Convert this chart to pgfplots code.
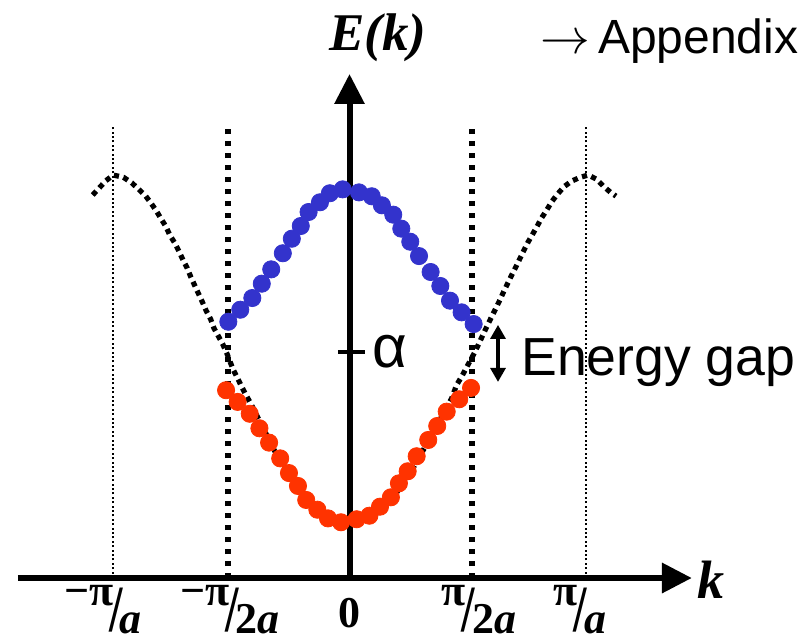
\documentclass[border=0pt]{standalone}
\usepackage{graphicx}
\usepackage{pgfplots}
\pgfplotsset{compat=1.18}
\usepackage{fontspec}
\setmainfont{Liberation Serif}
\newfontfamily\arial{Liberation Sans}
\usetikzlibrary{arrows.meta}
\definecolor{bandblue}{RGB}{51,51,204}
\definecolor{bandred}{RGB}{255,51,0}
% fraction-style tick label: raised numerator, tall slash, denominator
\newcommand{\frc}[2]{\raisebox{14pt}{#1}\kern-2pt\raisebox{1pt}{\scalebox{1.1}[1.5]{/}}\kern-1.5pt#2}

\begin{document}
\begin{tikzpicture}
\begin{axis}[
  x=118.25pt, y=88.5pt,
  xmin=-1.478, xmax=1.922,
  ymin=-1.627, ymax=1.989,
  enlargelimits=false,
  axis lines=none,
  clip=false,
]
% free-electron-like dotted band E(k), k in units of pi/a, E relative to alpha
\addplot[line width=2.6pt, dash pattern=on 2.6pt off 2.3pt] coordinates {
 (-1.086,0.887) (-1.055,0.932) (-1.030,0.968) (-0.999,1.000) (-0.956,0.987)
 (-0.921,0.956) (-0.891,0.919) (-0.863,0.883) (-0.841,0.844) (-0.817,0.798)
 (-0.797,0.753) (-0.776,0.708) (-0.760,0.661) (-0.738,0.614) (-0.722,0.571)
 (-0.704,0.520) (-0.686,0.473) (-0.671,0.424) (-0.655,0.377) (-0.638,0.328)
 (-0.621,0.279) (-0.606,0.233) (-0.587,0.185) (-0.573,0.134) (-0.553,0.086)
 (-0.536,0.044) (-0.519,-0.007) (-0.505,-0.055) (-0.491,-0.102) (-0.473,-0.149)
 (-0.456,-0.196) (-0.438,-0.243) (-0.418,-0.290) (-0.386,-0.375) (-0.315,-0.563)
 (-0.25,-0.70) (-0.18,-0.83) (-0.10,-0.93) (0,-0.97) (0.10,-0.93) (0.18,-0.83)
 (0.25,-0.70) (0.312,-0.554) (0.432,-0.262) (0.453,-0.186) (0.474,-0.140)
 (0.493,-0.092) (0.512,-0.045) (0.531,0.002) (0.549,0.053) (0.566,0.102)
 (0.584,0.153) (0.601,0.199) (0.619,0.247) (0.636,0.294) (0.652,0.341)
 (0.669,0.388) (0.686,0.435) (0.704,0.482) (0.721,0.529) (0.738,0.576)
 (0.756,0.623) (0.775,0.667) (0.794,0.712) (0.813,0.759) (0.834,0.802)
 (0.855,0.849) (0.879,0.891) (0.907,0.934) (0.940,0.966) (0.975,0.987)
 (1.010,1.000) (1.045,0.976) (1.076,0.934) (1.104,0.902) (1.127,0.881)
};
% zone boundaries
\addplot[line width=1pt, dash pattern=on 1pt off 1.2pt] coordinates {(-1.0,-1.277) (-1.0,1.282)};
\addplot[line width=1pt, dash pattern=on 1pt off 1.2pt] coordinates {(1.0,-1.277) (1.0,1.282)};
\addplot[line width=3pt, dash pattern=on 2.7pt off 3.3pt] coordinates {(-0.514,-1.277) (-0.514,1.282)};
\addplot[line width=3pt, dash pattern=on 2.7pt off 3.3pt] coordinates {(0.517,-1.277) (0.517,1.282)};
% lower band
\addplot[only marks, mark=*, mark size=4.3pt, color=bandred] coordinates {
 (-0.522,-0.216) (-0.473,-0.282) (-0.422,-0.349) (-0.381,-0.431) (-0.340,-0.512)
 (-0.293,-0.601) (-0.256,-0.684) (-0.218,-0.757) (-0.183,-0.836) (-0.136,-0.891)
 (-0.091,-0.940) (-0.036,-0.962) (0.030,-0.945) (0.084,-0.925) (0.129,-0.874)
 (0.175,-0.821) (0.209,-0.742) (0.246,-0.674) (0.284,-0.589) (0.333,-0.497)
 (0.371,-0.418) (0.411,-0.337) (0.464,-0.267) (0.514,-0.203)
};
% upper band
\addplot[only marks, mark=*, mark size=4.3pt, color=bandblue] coordinates {
 (-0.5125,0.171) (-0.462,0.239) (-0.411,0.305) (-0.371,0.386) (-0.331,0.467)
 (-0.282,0.558) (-0.244,0.640) (-0.206,0.712) (-0.173,0.791) (-0.125,0.846)
 (-0.083,0.897) (-0.029,0.919) (0.040,0.902) (0.094,0.880) (0.137,0.829)
 (0.185,0.776) (0.219,0.697) (0.257,0.623) (0.294,0.542) (0.343,0.452)
 (0.384,0.373) (0.425,0.290) (0.474,0.224) (0.525,0.158)
};
% axes
\addplot[line width=3.2pt, -{Triangle[length=15pt,width=14.5pt]}] coordinates {(-1.402,-1.277) (1.448,-1.277)};
\addplot[line width=3pt, -{Triangle[length=15pt,width=14.5pt]}] coordinates {(0,-1.277) (0,1.571)};
\addplot[line width=2pt] coordinates {(-0.049,0) (0.066,0)};
% energy gap arrow
\addplot[line width=1.6pt, {Triangle[length=7pt,width=7.5pt]}-{Triangle[length=7pt,width=7.5pt]}] coordinates {(0.628,0.153) (0.628,-0.169)};

\node[anchor=west, font=\arial\fontsize{30}{34}\selectfont, inner sep=0pt] at (axis cs:0.095,0) {α};
\node[anchor=base west, font=\arial\fontsize{26.8}{30}\selectfont, inner sep=0pt] at (axis cs:0.725,-0.130) {Energy gap};
\node[anchor=base, font=\fontsize{26.5}{30}\selectfont\bfseries\itshape, inner sep=0pt] at (axis cs:0.12,1.706) {E(k)};
\node[anchor=base west, font=\arial\fontsize{24}{28}\selectfont, inner sep=0pt] at (axis cs:0.805,1.689) {$\rightarrow$\,Appendix};
\node[anchor=base west, font=\fontsize{27}{30}\selectfont\bfseries\itshape, inner sep=0pt] at (axis cs:1.469,-1.390) {k};
% tick labels
\node[anchor=base, font=\fontsize{22}{26}\selectfont\bfseries, inner sep=0pt] at (axis cs:0,-1.559) {0};
\node[anchor=base, font=\fontsize{22}{24}\selectfont\bfseries, inner sep=0pt] at (axis cs:-1.042,-1.588) {\frc{−π}{\textit{a}}};
\node[anchor=base, font=\fontsize{22}{24}\selectfont\bfseries, inner sep=0pt] at (axis cs:-0.505,-1.588) {\frc{−π}{2\textit{a}}};
\node[anchor=base, font=\fontsize{22}{24}\selectfont\bfseries, inner sep=0pt] at (axis cs:0.548,-1.588) {\frc{π}{2\textit{a}}};
\node[anchor=base, font=\fontsize{22}{24}\selectfont\bfseries, inner sep=0pt] at (axis cs:0.975,-1.588) {\frc{π}{\textit{a}}};

\coordinate (bl) at (rel axis cs:0,0);
\coordinate (tr) at (rel axis cs:1,1);
\end{axis}
\pgfresetboundingbox
\path[use as bounding box] (bl) rectangle (tr);
\end{tikzpicture}
\end{document}
